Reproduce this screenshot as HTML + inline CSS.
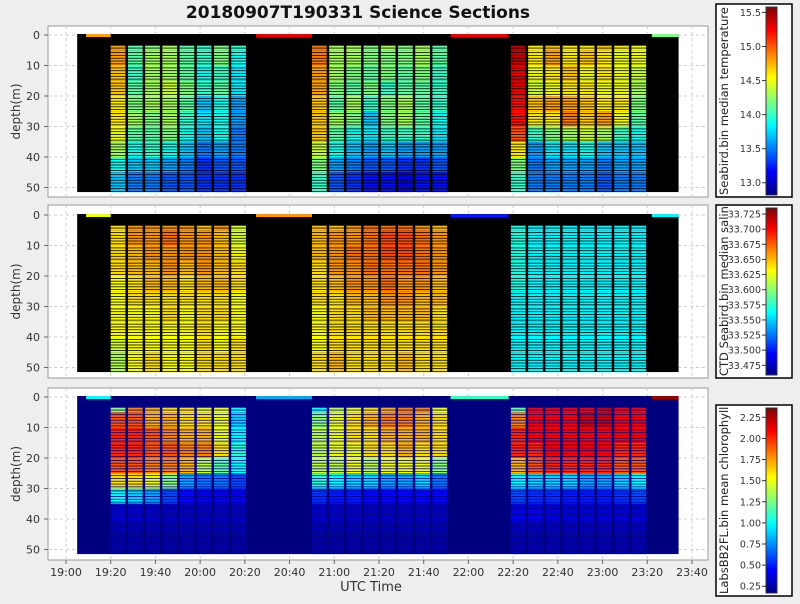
<!DOCTYPE html>
<html><head><meta charset="utf-8"><style>
body{margin:0;background:#eeeeee;font-family:"DejaVu Sans","Liberation Sans",sans-serif}
svg text{font-family:"DejaVu Sans","Liberation Sans",sans-serif}
</style></head><body>
<svg id="chart" width="800" height="600" viewBox="0 0 800 600" xmlns="http://www.w3.org/2000/svg">
<rect width="800" height="600" fill="#eeeeee"/>
<text x="358" y="18" text-anchor="middle" font-size="17" font-weight="bold" fill="#111">20180907T190331 Science Sections</text>
<g id="layer"></g>
</svg>
<script>
// ---------- data ----------
const sectionStarts = [20, 110, 199];          // minutes after 19:00
const depthBins = [3.5, 5, 10, 15, 20, 25, 30, 35, 40, 45, 51.5];
const xTickLabels = ["19:00","19:20","19:40","20:00","20:20","20:40","21:00","21:20","21:40","22:00","22:20","22:40","23:00","23:20","23:40"];
const yTickLabels = [0,10,20,30,40,50];
const tempTicks = [13.0,13.5,14.0,14.5,15.0,15.5];
const salTicks = [33.475,33.5,33.525,33.55,33.575,33.6,33.625,33.65,33.675,33.7,33.725];
const chlTicks = [0.25,0.5,0.75,1.0,1.25,1.5,1.75,2.0,2.25];
const temp1 = [[14.8,14.1,14.2,14.3,14.1,14.0,14.2,14.0],[14.8,14.1,14.3,14.3,14.1,14.0,14.2,13.9],[14.7,14.0,14.3,14.3,14.1,13.9,14.0,13.8],[14.7,14.1,14.3,14.4,14.2,14.0,14.1,13.8],[14.6,14.2,14.3,14.3,14.1,13.7,13.9,13.6],[14.6,14.3,14.2,14.3,14.0,13.8,13.9,13.6],[14.5,14.1,14.1,14.2,13.9,13.7,13.9,13.5],[14.3,13.9,14.0,13.9,13.7,13.5,13.6,13.5],[13.9,13.7,13.7,13.6,13.5,13.3,13.4,13.4],[13.7,13.5,13.5,13.4,13.4,13.3,13.3,13.3]];
const temp2 = [[14.9,14.3,14.3,14.2,14.3,14.2,14.3,14.1],[14.9,14.3,14.3,14.2,14.2,14.2,14.3,14.1],[14.8,14.3,14.2,14.1,14.2,14.1,14.2,14.0],[14.8,14.2,14.1,14.2,14.0,14.1,14.1,14.0],[14.7,14.1,14.3,14.0,14.2,14.3,14.1,14.0],[14.7,14.3,14.2,13.7,14.2,14.3,14.1,13.9],[14.7,14.1,13.9,13.8,14.0,14.0,14.0,13.8],[14.4,13.9,13.7,13.6,13.7,13.6,13.6,13.6],[14.2,13.6,13.5,13.4,13.4,13.3,13.3,13.4],[14.0,13.4,13.3,13.2,13.2,13.1,13.2,13.2]];
const temp3 = [[15.4,14.6,14.7,14.6,14.6,14.7,14.6,14.5],[15.4,14.6,14.8,14.6,14.7,14.6,14.5,14.5],[15.3,14.5,14.6,14.7,14.5,14.6,14.5,14.4],[15.3,14.4,14.5,14.6,14.6,14.5,14.5,14.3],[15.2,14.7,14.8,14.8,14.7,14.6,14.6,14.2],[15.2,14.6,14.6,14.9,14.7,14.8,14.5,14.1],[15.0,14.0,14.2,14.3,14.4,14.3,14.0,13.9],[14.6,13.6,13.8,13.8,13.9,13.7,13.7,13.7],[14.2,13.5,13.6,13.6,13.6,13.5,13.6,13.6],[14.0,13.5,13.5,13.5,13.5,13.4,13.5,13.5]];
const sal1 = [[33.64,33.66,33.66,33.66,33.66,33.65,33.66,33.62],[33.64,33.66,33.66,33.67,33.66,33.66,33.65,33.62],[33.64,33.65,33.66,33.66,33.66,33.66,33.65,33.63],[33.64,33.65,33.65,33.66,33.65,33.66,33.65,33.64],[33.63,33.64,33.65,33.65,33.64,33.65,33.65,33.64],[33.63,33.64,33.64,33.64,33.64,33.64,33.64,33.63],[33.63,33.63,33.63,33.64,33.63,33.64,33.64,33.63],[33.63,33.63,33.63,33.63,33.63,33.64,33.63,33.63],[33.62,33.63,33.63,33.63,33.63,33.64,33.63,33.64],[33.61,33.63,33.64,33.63,33.63,33.64,33.64,33.64]];
const sal2 = [[33.65,33.65,33.66,33.67,33.67,33.67,33.66,33.65],[33.65,33.66,33.66,33.67,33.68,33.68,33.67,33.66],[33.65,33.66,33.67,33.67,33.68,33.68,33.67,33.66],[33.64,33.66,33.66,33.67,33.67,33.67,33.67,33.66],[33.64,33.65,33.66,33.66,33.67,33.66,33.66,33.65],[33.64,33.64,33.65,33.65,33.66,33.66,33.65,33.65],[33.63,33.64,33.64,33.65,33.65,33.65,33.65,33.64],[33.63,33.64,33.64,33.64,33.64,33.64,33.64,33.64],[33.63,33.64,33.64,33.64,33.64,33.64,33.64,33.64],[33.64,33.65,33.64,33.64,33.64,33.65,33.64,33.64]];
const sal3 = [[33.57,33.56,33.56,33.56,33.56,33.56,33.56,33.56],[33.57,33.56,33.56,33.56,33.56,33.56,33.56,33.56],[33.57,33.56,33.56,33.56,33.56,33.56,33.56,33.56],[33.57,33.56,33.56,33.56,33.56,33.56,33.56,33.56],[33.57,33.56,33.56,33.56,33.56,33.56,33.56,33.56],[33.56,33.56,33.56,33.56,33.56,33.56,33.56,33.56],[33.56,33.56,33.56,33.56,33.56,33.56,33.56,33.56],[33.56,33.56,33.56,33.56,33.56,33.56,33.56,33.56],[33.56,33.56,33.56,33.56,33.56,33.56,33.56,33.56],[33.56,33.56,33.56,33.56,33.56,33.56,33.56,33.56]];
const chl1 = [[1.3,1.8,1.7,1.6,1.6,1.5,1.5,1.0],[1.9,1.9,1.7,1.7,1.6,1.6,1.5,0.9],[2.0,2.0,1.9,1.8,1.7,1.7,1.5,1.0],[2.0,2.0,1.9,1.9,1.8,1.8,1.6,1.1],[1.9,1.9,1.8,1.8,1.7,1.4,1.2,1.0],[1.6,1.6,1.5,1.3,0.8,0.7,0.7,0.6],[1.0,0.9,0.8,0.6,0.45,0.4,0.4,0.4],[0.35,0.33,0.32,0.3,0.3,0.3,0.3,0.3],[0.28,0.28,0.28,0.27,0.27,0.27,0.27,0.27],[0.26,0.26,0.26,0.25,0.25,0.25,0.25,0.25]];
const chl2 = [[1.0,1.4,1.5,1.6,1.7,1.8,1.8,1.5],[1.3,1.5,1.6,1.7,1.8,1.8,1.7,1.6],[1.4,1.5,1.6,1.6,1.7,1.7,1.7,1.6],[1.4,1.5,1.5,1.6,1.6,1.7,1.6,1.6],[1.4,1.4,1.5,1.4,1.5,1.5,1.5,1.3],[1.1,1.0,0.9,0.9,0.8,0.8,0.9,0.7],[0.55,0.5,0.5,0.45,0.45,0.45,0.45,0.45],[0.33,0.32,0.32,0.3,0.3,0.3,0.3,0.3],[0.28,0.27,0.27,0.27,0.27,0.27,0.27,0.27],[0.25,0.25,0.25,0.25,0.25,0.25,0.25,0.25]];
const chl3 = [[1.2,2.1,2.1,2.1,2.1,2.2,2.1,2.1],[1.8,2.1,2.1,2.1,2.2,2.2,2.1,2.1],[2.0,2.1,2.1,2.1,2.1,2.1,2.1,2.1],[2.0,2.0,2.1,2.1,2.1,2.1,2.0,2.0],[1.7,1.9,2.0,2.0,2.0,2.0,1.9,1.9],[1.0,0.9,0.9,0.9,0.8,0.8,0.9,1.0],[0.6,0.55,0.55,0.5,0.5,0.5,0.55,0.6],[0.4,0.4,0.38,0.36,0.36,0.36,0.36,0.36],[0.32,0.3,0.3,0.3,0.3,0.3,0.3,0.3],[0.28,0.27,0.27,0.27,0.27,0.27,0.27,0.27]];
const tempSurface = [[9,20,14.8],[85,110,15.3],[172,198,15.3],[262,274,14.2]];
const salSurface = [[9,20,33.63],[85,110,33.66],[172,198,33.50],[262,274,33.56]];
const chlSurface = [[9,20,1.0],[85,110,0.8],[172,198,1.1],[262,274,2.3]];

// ---------- helpers ----------
const NS = "http://www.w3.org/2000/svg";
const layer = document.getElementById("layer");
function mk(tag, attrs, parent){const e=document.createElementNS(NS,tag);for(const k in attrs)e.setAttribute(k,attrs[k]);(parent||layer).appendChild(e);return e;}
function jet(t){t=Math.max(0,Math.min(1,t));
  const r=Math.max(0,Math.min(1,1.5-Math.abs(4*t-3))),g=Math.max(0,Math.min(1,1.5-Math.abs(4*t-2))),b=Math.max(0,Math.min(1,1.5-Math.abs(4*t-1)));
  return `rgb(${Math.round(r*255)},${Math.round(g*255)},${Math.round(b*255)})`;}
const X0=66, PXMIN=626/280;
function xScale(min){return X0+min*PXMIN;}
const K=3.05;
const COLSTEP=7.7, COLW=6.6;

const panels=[
 {top:26,bot:197,y0:35,bg:"#000",grids:[temp1,temp2,temp3],surf:tempSurface,vmin:12.82,vmax:15.58,
  cb:{top:4,bot:197,strip:[7,195],ticks:tempTicks,fmt:v=>v.toFixed(1),label:"Seabird.bin median temperature (C)",name:"temperature"}},
 {top:205,bot:378,y0:215,bg:"#000",grids:[sal1,sal2,sal3],surf:salSurface,vmin:33.459,vmax:33.735,
  cb:{top:205,bot:378,strip:[208,375],ticks:salTicks,fmt:v=>v.toFixed(3),label:"CTD Seabird.bin median salinity (psu)",name:"salinity"}},
 {top:388,bot:560,y0:397,bg:"#00007f",grids:[chl1,chl2,chl3],surf:chlSurface,vmin:0.17,vmax:2.36,
  cb:{top:405,bot:596,strip:[408,593],ticks:chlTicks,fmt:v=>v.toFixed(2),label:"LabsBB2FL.bin mean chlorophyll (ug/l)",name:"chlorophyll"}}
];

panels.forEach((p,pi)=>{
  const yS=d=>p.y0+d*K;
  const g=mk("g",{});
  
  
  mk("rect",{x:48,y:p.top,width:660,height:p.bot-p.top,fill:"#fff",stroke:"#999","stroke-width":1},g);
  xTickLabels.forEach((l,i)=>{const x=xScale(i*20);mk("line",{x1:x,x2:x,y1:p.top,y2:p.bot,stroke:"#ccc","stroke-dasharray":"3,3"},g);});
  yTickLabels.forEach(v=>{mk("line",{x1:48,x2:708,y1:yS(v),y2:yS(v),stroke:"#ccc","stroke-dasharray":"3,3"},g);});
  const bg=mk("rect",{x:xScale(5),y:yS(0)-1,width:xScale(274)-xScale(5),height:yS(51.5)-yS(0)+1,fill:p.bg},g);
  
  
  p.grids.forEach((grid,si)=>{
    grid.forEach((row,ri)=>{
      row.forEach((v,ci)=>{
        const t0=sectionStarts[si]+ci*COLSTEP, x=xScale(t0), w=COLW*PXMIN;
        const col=jet((v-p.vmin)/(p.vmax-p.vmin));
        const ya=yS(depthBins[ri]), yb=yS(depthBins[ri+1]);
        for(let y=ya;y<yb;y+=2.8){
          const r=mk("rect",{x:x,y:y,width:w,height:Math.min(2,yb-y),fill:col},g);
          
          
        }
      });
    });
  });
  p.surf.forEach(s=>{
    const r=mk("rect",{x:xScale(s[0]),y:yS(0)-1,width:xScale(s[1])-xScale(s[0]),height:3,fill:jet((s[2]-p.vmin)/(p.vmax-p.vmin))},g);
    
    
  });
  yTickLabels.forEach(v=>{
    mk("line",{x1:44,x2:48,y1:yS(v),y2:yS(v),stroke:"#666"},g);
    const t=mk("text",{x:40,y:yS(v)+4,"text-anchor":"end","font-size":11,fill:"#333"},g);t.textContent=v;
    
    
  });
  const yt=mk("text",{x:0,y:0,transform:`translate(20,${(p.top+p.bot)/2}) rotate(-90)`,"text-anchor":"middle","font-size":12,fill:"#333"},g);
  yt.textContent="depth(m)";
  
  
  const cb=p.cb;
  const cg=mk("g",{});
  
  
  const cid="clip"+pi;
  const cp=mk("clipPath",{id:cid},cg);mk("rect",{x:716,y:cb.top,width:76,height:cb.bot-cb.top},cp);
  mk("rect",{x:716,y:cb.top,width:76,height:cb.bot-cb.top,fill:"#fff",stroke:"#000","stroke-width":1.5},cg);
  const gid="grad"+pi;
  const gr=mk("linearGradient",{id:gid,x1:0,y1:1,x2:0,y2:0},cg);
  for(let i=0;i<=8;i++)mk("stop",{offset:i/8,"stop-color":jet(i/8)},gr);
  mk("rect",{x:766,y:cb.strip[0],width:11,height:cb.strip[1]-cb.strip[0],fill:`url(#${gid})`,stroke:"#333"},cg);
  const cy=v=>cb.strip[1]-(v-p.vmin)/(p.vmax-p.vmin)*(cb.strip[1]-cb.strip[0]);
  cb.ticks.forEach(v=>{
    mk("line",{x1:762,x2:766,y1:cy(v),y2:cy(v),stroke:"#333"},cg);
    const t=mk("text",{x:761,y:cy(v)+3.5,"text-anchor":"end","font-size":9.5,fill:"#333"},cg);t.textContent=cb.fmt(v);
    
    
  });
  const lg=mk("g",{"clip-path":`url(#${cid})`},cg);
  const lt=mk("text",{x:0,y:0,transform:`translate(728,${cb.bot-2}) rotate(-90)`,"font-size":11.5,fill:"#222"},lg);
  lt.textContent=cb.label;
  
  
});
xTickLabels.forEach((l,i)=>{
  const x=xScale(i*20);
  mk("line",{x1:x,x2:x,y1:560,y2:564,stroke:"#666"});
  const t=mk("text",{x:x,y:576,"text-anchor":"middle","font-size":11,fill:"#333"});t.textContent=l;
  
  
});
const xt=mk("text",{x:371,y:591,"text-anchor":"middle","font-size":13,fill:"#333"});
xt.textContent="UTC Time";


</script>
</body></html>
